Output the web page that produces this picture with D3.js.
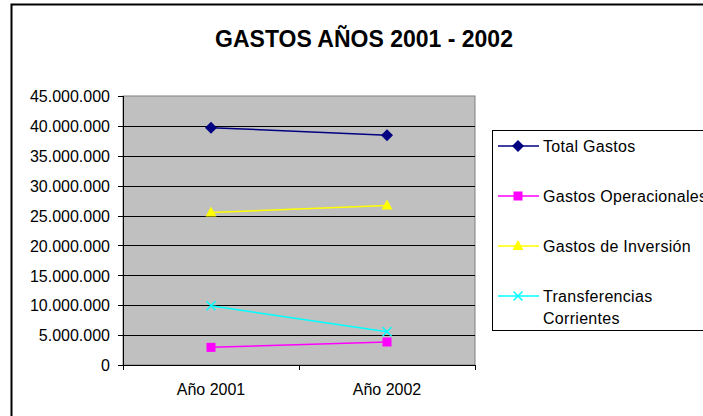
<!DOCTYPE html>
<html><head><meta charset="utf-8">
<script src="https://cdn.jsdelivr.net/npm/d3@7"></script>
<style>body{margin:0;background:#fff}svg{display:block}</style>
</head><body>
<script>
const categories = ["Año 2001", "Año 2002"];
const seriesNames = ["Total Gastos", "Gastos Operacionales", "Gastos de Inversión", "Transferencias Corrientes"];
const totalGastos = [39700000, 38450000];
const gastosOperacionales = [2950000, 3850000];
const gastosInversion = [25500000, 26700000];
const transferencias = [9900000, 5550000];
const yTicks = [0, 5000000, 10000000, 15000000, 20000000, 25000000, 30000000, 35000000, 40000000, 45000000];
const colors = ["#000080", "#FF00FF", "#FFFF00", "#00FFFF"];
const symbols = ["diamond", "square", "triangle", "x"];
const series = [totalGastos, gastosOperacionales, gastosInversion, transferencias].map((v, i) => ({name: seriesNames[i], values: v, color: colors[i], sym: symbols[i]}));

const FONT = "Liberation Sans, Arial, sans-serif";
const W = 703, H = 416;
const svg = d3.select("body").append("svg").attr("width", W).attr("height", H);
// outer frame
svg.append("rect").attr("x", 11.5).attr("y", 4.5).attr("width", 720).attr("height", 430)
  .attr("fill", "#fff").attr("stroke", "#000").attr("stroke-width", 2);

svg.append("text").attr("x", 364).attr("y", 47).attr("text-anchor", "middle")
  .attr("font-family", FONT).attr("font-weight", "bold")
  .attr("font-size", 23).text("GASTOS AÑOS 2001 - 2002");

const L = 123, R = 475, T = 96, B = 365;
const x = d3.scaleBand().domain(categories).range([L, R]);
const y = d3.scaleLinear().domain([0, 45000000]).range([B, T]);

svg.append("rect").attr("x", L).attr("y", T).attr("width", R - L).attr("height", B - T)
  .attr("fill", "#C0C0C0").attr("stroke", "#808080").attr("stroke-width", 1);

const fmt = v => d3.format(",")(v).replace(/,/g, ".");
const gy = svg.append("g").attr("transform", `translate(${L},0)`)
  .call(d3.axisLeft(y).tickValues(yTicks).tickFormat(fmt).tickSize(0).tickPadding(13));
gy.select(".domain").remove();
gy.selectAll("text").attr("font-family", FONT).attr("font-size", 16).attr("fill", "#000").attr("dy", "0.36em");
// gridlines
svg.append("g").selectAll("line").data(yTicks.filter(d => d > 0 && d < 45000000)).join("line")
  .attr("x1", L).attr("x2", R).attr("y1", d => Math.round(y(d)) + 0.5).attr("y2", d => Math.round(y(d)) + 0.5)
  .attr("stroke", "#000").attr("stroke-width", 1);
// y ticks
svg.append("g").selectAll("line").data(yTicks).join("line")
  .attr("x1", L - 5).attr("x2", L).attr("y1", d => Math.round(y(d)) + 0.5).attr("y2", d => Math.round(y(d)) + 0.5)
  .attr("stroke", "#000");
// axes lines
svg.append("line").attr("x1", L + 0.5).attr("x2", L + 0.5).attr("y1", T).attr("y2", B).attr("stroke", "#000");
svg.append("line").attr("x1", L).attr("x2", R).attr("y1", B + 0.5).attr("y2", B + 0.5).attr("stroke", "#000");
// x ticks
const xt = [L, ...categories.slice(1).map(c => x(c)), R];
svg.append("g").selectAll("line").data(xt).join("line")
  .attr("x1", d => Math.round(d) + 0.5).attr("x2", d => Math.round(d) + 0.5).attr("y1", B).attr("y2", B + 5).attr("stroke", "#000");
svg.append("g").selectAll("text").data(categories).join("text")
  .attr("x", d => x(d) + x.bandwidth() / 2).attr("y", 395).attr("text-anchor", "middle")
  .attr("font-family", FONT).attr("font-size", 16).text(d => d);

function drawMarker(g, sym, color, cx, cy) {
  if (sym === "diamond") g.append("path").attr("d", `M${cx},${cy-6}L${cx+6},${cy}L${cx},${cy+6}L${cx-6},${cy}Z`).attr("fill", color);
  else if (sym === "square") g.append("rect").attr("x", cx - 4.5).attr("y", cy - 4.5).attr("width", 9).attr("height", 9).attr("fill", color);
  else if (sym === "triangle") g.append("path").attr("d", `M${cx},${cy-6}L${cx+5.5},${cy+4}L${cx-5.5},${cy+4}Z`).attr("fill", color);
  else g.append("path").attr("d", `M${cx-4.5},${cy-4.5}L${cx+4.5},${cy+4.5}M${cx-4.5},${cy+4.5}L${cx+4.5},${cy-4.5}`).attr("stroke", color).attr("stroke-width", 1.5);
}

const cx = c => x(c) + x.bandwidth() / 2;
series.forEach(s => {
  const g = svg.append("g");
  g.append("path").attr("d", d3.line().x((d, i) => cx(categories[i])).y(d => y(d))(s.values))
    .attr("fill", "none").attr("stroke", s.color).attr("stroke-width", 1.5);
  s.values.forEach((v, i) => drawMarker(g, s.sym, s.color, cx(categories[i]), y(v)));
});

// legend
svg.append("rect").attr("x", 492.5).attr("y", 130.5).attr("width", 260).attr("height", 200)
  .attr("fill", "#fff").attr("stroke", "#000");
const rows = [146, 196, 246, 296];
series.forEach((s, i) => {
  const g = svg.append("g");
  g.append("line").attr("x1", 498).attr("x2", 539).attr("y1", rows[i]).attr("y2", rows[i]).attr("stroke", s.color).attr("stroke-width", 1.5);
  drawMarker(g, s.sym, s.color, 518, rows[i]);
  const t = g.append("text").attr("x", 543).attr("y", rows[i] + 6)
    .attr("font-family", FONT).attr("font-size", 16).attr("letter-spacing", 0.3);
  if (i === 3) {
    t.append("tspan").attr("x", 543).text("Transferencias");
    t.append("tspan").attr("x", 543).attr("dy", 22).text("Corrientes");
  } else t.text(s.name);
});
</script>
</body></html>
